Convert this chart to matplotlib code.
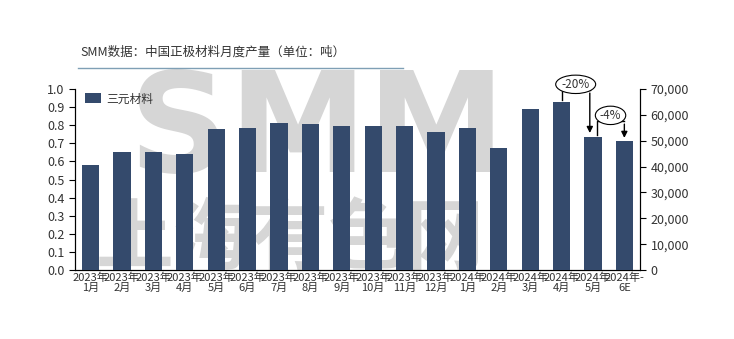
import matplotlib
matplotlib.use("Agg")
from matplotlib import pyplot as plt

plt.rcParams['font.family'] = ['Noto Sans CJK SC', 'DejaVu Sans']

months = ["2023年\n1月", "2023年\n2月", "2023年\n3月", "2023年\n4月", "2023年\n5月", "2023年\n6月",
          "2023年\n7月", "2023年\n8月", "2023年\n9月", "2023年\n10月", "2023年\n11月", "2023年\n12月",
          "2024年\n1月", "2024年\n2月", "2024年\n3月", "2024年\n4月", "2024年\n5月", "2024年-\n6E"]
ncm = [40800, 45800, 45800, 44700, 54700, 55100, 57000, 56300, 55500,
       55800, 55800, 53300, 55100, 47000, 62400, 65100, 51600, 49700]
left_ticks = [0.0, 0.1, 0.2, 0.3, 0.4, 0.5, 0.6, 0.7, 0.8, 0.9, 1.0]
right_ticks = [0, 10000, 20000, 30000, 40000, 50000, 60000, 70000]

bar_color = "#344a6c"
text_color = "#333333"
wm_color = "#d6d6d6"

fig = plt.figure(figsize=(7.34, 3.39), dpi=100)
ax = fig.add_axes([0.102, 0.2035, 0.770, 0.534])
ax.patch.set_visible(False)
ax2 = ax.twinx()

# watermark behind everything
fig.text(317 / 734, 1 - 133 / 339, "SMM", fontsize=100, fontweight="bold",
         color=wm_color, ha="center", va="center", zorder=-1, family="DejaVu Sans")
fig.text(290 / 734, 1 - 240 / 339, "上海有色网", fontsize=56, fontweight="bold",
         color=wm_color, ha="center", va="center", zorder=-1)

x = list(range(len(months)))
ax2.bar(x, ncm, width=0.55, color=bar_color, label="三元材料", zorder=3)

ax.set_xlim(-0.5, len(months) - 0.5)
ax.set_ylim(0, 1.0)
ax.set_yticks(left_ticks)
ax.set_yticklabels([f"{t:.1f}" for t in left_ticks])
ax2.set_ylim(0, 70000)
ax2.set_yticks(right_ticks)
ax2.set_yticklabels([f"{t:,}" for t in right_ticks])

ax.set_xticks(x)
ax.set_xticklabels(months, fontsize=8, color=text_color, linespacing=1.0)
ax.tick_params(axis="x", length=0, pad=2)
ax.tick_params(axis="y", labelsize=9, colors="black", labelcolor=text_color, length=4, width=0.8)
ax2.tick_params(axis="y", labelsize=9, colors="black", labelcolor=text_color, length=4, width=0.8)
for a in (ax, ax2):
    a.spines["top"].set_visible(False)
    for s in ("left", "right", "bottom"):
        a.spines[s].set_color("black")
        a.spines[s].set_linewidth(0.8)

leg = ax2.legend(loc="upper left", bbox_to_anchor=(0.0, 1.04), frameon=False, fontsize=8.5,
                 handlelength=1.3, handleheight=0.9, handletextpad=0.5)
for t in leg.get_texts():
    t.set_color(text_color)

# bracket annotations
def bracket(x0, x1, y0, ytop, y1, label):
    ax2.plot([x0, x0, x1], [y0, ytop, ytop], color="black", lw=1, zorder=5, clip_on=False)
    ax2.annotate("", xy=(x1, y1), xytext=(x1, ytop),
                 arrowprops=dict(arrowstyle="-|>", color="black", lw=1, mutation_scale=9),
                 zorder=5, annotation_clip=False)
    ax2.text((x0 + x1) / 2, ytop + 2300, label, ha="center", va="center", fontsize=8.5,
             color=text_color, zorder=6, clip_on=False,
             bbox=dict(boxstyle="ellipse,pad=0.0", fc="white", ec="black", lw=0.8))

bracket(15, 15.9, ncm[15] + 800, 69500, ncm[16] + 300, "-20%")
bracket(16.12, 17, ncm[16] + 800, 57500, ncm[17] + 300, "-4%")

fig.text(0.11, 0.845, "SMM数据：中国正极材料月度产量（单位：吨）", fontsize=9, color=text_color,
         ha="left", va="center")
fig.add_artist(plt.Line2D([0.106, 0.549], [0.8, 0.8], color="#7f9fb5", lw=1))

fig.savefig("out.png", dpi=100)
